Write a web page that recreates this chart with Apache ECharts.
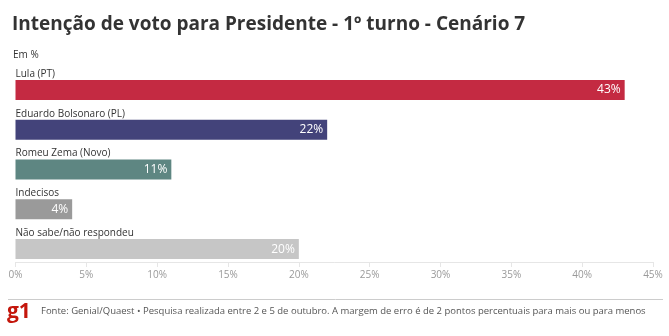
<!DOCTYPE html>
<html><head><meta charset="utf-8">
<script src="https://cdn.jsdelivr.net/npm/echarts@6/dist/echarts.min.js"></script>
<style>html,body{margin:0;padding:0;background:#fff}#c{width:669px;height:336px}</style>
</head><body><div id="c"></div>
<script>
const categories = ['Lula (PT)', 'Eduardo Bolsonaro (PL)', 'Romeu Zema (Novo)', 'Indecisos', 'Não sabe/não respondeu'];
const values = [43, 22, 11, 4, 20];
const colors = ['#c42a42', '#43437a', '#5e8682', '#9a9a9a', '#c6c6c6'];
const xTicks = [0, 5, 10, 15, 20, 25, 30, 35, 40, 45];
const titleText = 'Intenção de voto para Presidente - 1º turno - Cenário 7';
const subtitleText = 'Em %';
const sourceText = 'Fonte: Genial/Quaest • Pesquisa realizada entre 2 e 5 de outubro. A margem de erro é de 2 pontos percentuais para mais ou para menos';

const FONT = '"Open Sans", sans-serif';
const chart = echarts.init(document.getElementById('c'));
chart.setOption({
  animation: false,
  title: {
    text: titleText, left: 7, top: 10,
    textStyle: { fontFamily: FONT, fontSize: 19, fontWeight: 'bold', color: '#333' }
  },
  graphic: [
    { type: 'text', left: 13, top: 50, style: { text: subtitleText, font: '10px ' + FONT, fill: '#333' } },
    { type: 'line', shape: { x1: 8, y1: 299.5, x2: 663, y2: 299.5 }, style: { stroke: '#ccc', lineWidth: 1 } },
    { type: 'text', left: 7, top: 302, style: { text: 'g1', font: 'bold 21px ' + FONT, fill: '#c4170c' } },
    { type: 'text', left: 41, top: 306, style: { text: sourceText, font: '9.5px ' + FONT, fill: '#555' } }
  ],
  grid: { left: 15.5, right: 16, top: 70, bottom: 67, containLabel: false },
  xAxis: {
    type: 'value', min: 0, max: 45, interval: 5, offset: -7,
    axisLine: { show: true, lineStyle: { color: '#e6e6e6' } },
    axisTick: { show: true, length: 5, lineStyle: { color: '#e6e6e6' } },
    splitLine: { show: false },
    axisLabel: { formatter: '{value}%', color: '#999', fontSize: 10, fontFamily: FONT, margin: 8 }
  },
  yAxis: {
    type: 'category', data: categories, inverse: true,
    axisLine: { show: false }, axisTick: { show: false }, axisLabel: { show: false }
  },
  series: [
    {
      type: 'bar', barWidth: 20,
      data: values.map((v, i) => ({ value: v, itemStyle: { color: colors[i] } })),
      label: { show: true, position: 'insideRight', distance: 4, formatter: '{c}%', color: '#fff', fontSize: 12, fontFamily: FONT }
    },
    {
      type: 'bar', barWidth: 20, barGap: '-100%',
      data: values, itemStyle: { color: 'rgba(0,0,0,0)' },
      label: { show: true, position: [0, -11], formatter: '{b}', color: '#333', fontSize: 10, fontFamily: FONT }
    }
  ]
});
</script></body></html>
